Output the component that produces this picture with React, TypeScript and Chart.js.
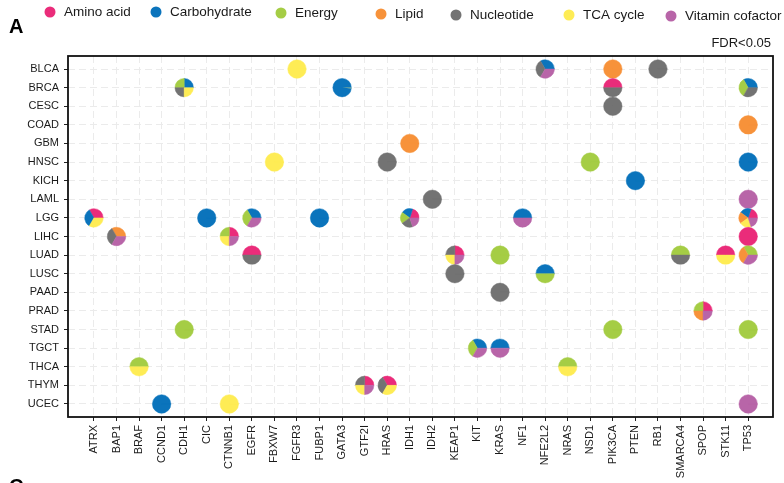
import React, { useEffect, useRef } from 'react';
import { Chart, registerables } from 'chart.js';

Chart.register(...registerables);

const FONT = '"Liberation Sans", Arial, Helvetica, sans-serif';

// ---------------- data ----------------
const categories = ['Amino acid', 'Carbohydrate', 'Energy', 'Lipid', 'Nucleotide', 'TCA cycle', 'Vitamin cofactor'];

const genes = [
  'ATRX', 'BAP1', 'BRAF', 'CCND1', 'CDH1', 'CIC', 'CTNNB1', 'EGFR', 'FBXW7', 'FGFR3',
  'FUBP1', 'GATA3', 'GTF2I', 'HRAS', 'IDH1', 'IDH2', 'KEAP1', 'KIT', 'KRAS', 'NF1',
  'NFE2L2', 'NRAS', 'NSD1', 'PIK3CA', 'PTEN', 'RB1', 'SMARCA4', 'SPOP', 'STK11', 'TP53',
];

const cancers = [
  'BLCA', 'BRCA', 'CESC', 'COAD', 'GBM', 'HNSC', 'KICH', 'LAML', 'LGG', 'LIHC',
  'LUAD', 'LUSC', 'PAAD', 'PRAD', 'STAD', 'TGCT', 'THCA', 'THYM', 'UCEC',
];

// significant (FDR<0.05) cancer/gene pairs and the pathway shares of each pie
const hitCancers = [
  'BLCA', 'BLCA', 'BLCA', 'BLCA',
  'BRCA', 'BRCA', 'BRCA', 'BRCA',
  'CESC', 'COAD', 'GBM',
  'HNSC', 'HNSC', 'HNSC', 'HNSC',
  'KICH', 'LAML', 'LAML',
  'LGG', 'LGG', 'LGG', 'LGG', 'LGG', 'LGG', 'LGG',
  'LIHC', 'LIHC', 'LIHC',
  'LUAD', 'LUAD', 'LUAD', 'LUAD', 'LUAD', 'LUAD',
  'LUSC', 'LUSC', 'PAAD', 'PRAD',
  'STAD', 'STAD', 'STAD',
  'TGCT', 'TGCT', 'THCA', 'THCA', 'THYM', 'THYM',
  'UCEC', 'UCEC', 'UCEC',
];

const hitGenes = [
  'FGFR3', 'NFE2L2', 'PIK3CA', 'RB1',
  'CDH1', 'GATA3', 'PIK3CA', 'TP53',
  'PIK3CA', 'TP53', 'IDH1',
  'FBXW7', 'HRAS', 'NSD1', 'TP53',
  'PTEN', 'IDH2', 'TP53',
  'ATRX', 'CIC', 'EGFR', 'FUBP1', 'IDH1', 'NF1', 'TP53',
  'BAP1', 'CTNNB1', 'TP53',
  'EGFR', 'KEAP1', 'KRAS', 'SMARCA4', 'STK11', 'TP53',
  'KEAP1', 'NFE2L2', 'KRAS', 'SPOP',
  'CDH1', 'PIK3CA', 'TP53',
  'KIT', 'KRAS', 'BRAF', 'NRAS', 'GTF2I', 'HRAS',
  'CCND1', 'CTNNB1', 'TP53',
];

// shares per category, in the order of `categories`
const hitShares: number[][] = [
  [0, 0, 0, 0, 0, 1, 0], [0, 1, 0, 0, 1, 0, 1], [0, 0, 0, 1, 0, 0, 0], [0, 0, 0, 0, 1, 0, 0],
  [0, 1, 1, 0, 1, 1, 0], [0, 1, 0, 0, 0, 0.01, 0], [1, 0, 0, 0, 1, 0, 0], [0, 1, 1, 0, 1, 0, 0],
  [0, 0, 0, 0, 1, 0, 0], [0, 0, 0, 1, 0, 0, 0], [0, 0, 0, 1, 0, 0, 0],
  [0, 0, 0, 0, 0, 1, 0], [0, 0, 0, 0, 1, 0, 0], [0, 0, 1, 0, 0, 0, 0], [0, 1, 0, 0, 0, 0, 0],
  [0, 1, 0, 0, 0, 0, 0], [0, 0, 0, 0, 1, 0, 0], [0, 0, 0, 0, 0, 0, 1],
  [1, 1, 0, 0, 0, 1, 0], [0, 1, 0, 0, 0, 0, 0], [0, 1, 1, 0, 0, 0, 1], [0, 1, 0, 0, 0, 0, 0],
  [1, 1, 1, 0, 1, 0, 1], [0, 1, 0, 0, 0, 0, 1], [1, 1, 0, 1, 0, 1, 1],
  [0, 0, 0, 1, 1, 0, 1], [1, 0, 1, 0, 0, 1, 1], [1, 0, 0, 0, 0, 0, 0],
  [1, 0, 0, 0, 1, 0, 0], [1, 0, 0, 0, 1, 1, 1], [0, 0, 1, 0, 0, 0, 0], [0, 0, 1, 0, 1, 0, 0],
  [1, 0, 0, 0, 0, 1, 0], [0, 0, 1, 1, 0, 0, 1],
  [0, 0, 0, 0, 1, 0, 0], [0, 1, 1, 0, 0, 0, 0], [0, 0, 0, 0, 1, 0, 0], [1, 0, 1, 1, 0, 0, 1],
  [0, 0, 1, 0, 0, 0, 0], [0, 0, 1, 0, 0, 0, 0], [0, 0, 1, 0, 0, 0, 0],
  [0, 1, 1, 0, 0, 0, 1], [0, 1, 0, 0, 0, 0, 1], [0, 0, 1, 0, 0, 1, 0], [0, 0, 1, 0, 0, 1, 0],
  [1, 0, 0, 0, 1, 1, 1], [1, 0, 0, 0, 1, 1, 0],
  [0, 1, 0, 0, 0, 0, 0], [0, 0, 0, 0, 0, 1, 0], [0, 0, 0, 0, 0, 0, 1],
];

// ---------------- styles ----------------
const categoryColors = ['#EA2C7A', '#0B74BC', '#A5CD45', '#F7923A', '#737373', '#FEEC55', '#B865A8'];
const TEXT = '#1a1a1a';

const piePlugin = {
  id: 'pies',
  beforeDatasetsDraw(chart: any) {
    const { ctx, chartArea } = chart;
    ctx.save();
    ctx.strokeStyle = '#111';
    ctx.lineWidth = 1.8;
    ctx.strokeRect(chartArea.left, chartArea.top, chartArea.right - chartArea.left, chartArea.bottom - chartArea.top);
    ctx.restore();
  },
  afterDatasetsDraw(chart: any) {
    const ctx = chart.ctx;
    const xs = chart.scales.x;
    const r = 0.41 * Math.abs(xs.getPixelForValue(1) - xs.getPixelForValue(0));
    const meta = chart.getDatasetMeta(0);
    ctx.save();
    meta.data.forEach((pt: any, i: number) => {
      const shares = hitShares[i];
      const total = shares.reduce((s, v) => s + v, 0);
      let a = 0;
      shares.forEach((v, k) => {
        if (!v) return;
        const a1 = a - (v / total) * Math.PI * 2;
        ctx.beginPath();
        ctx.moveTo(pt.x, pt.y);
        ctx.arc(pt.x, pt.y, r, a, a1, true);
        ctx.closePath();
        ctx.fillStyle = categoryColors[k];
        ctx.fill();
        if (v / total > 0.05) {
          ctx.strokeStyle = categoryColors[k];
          ctx.lineWidth = 0.5;
          ctx.stroke();
        }
        a = a1;
      });
    });
    ctx.restore();
  },
  afterDraw(chart: any) {
    const ctx = chart.ctx;
    ctx.save();
    // panel letters
    ctx.fillStyle = '#000';
    ctx.font = `bold 20px ${FONT}`;
    ctx.textAlign = 'left';
    ctx.textBaseline = 'alphabetic';
    ctx.fillText('A', 9, 33);
    ctx.fillText('C', 9, 493);
    // legend
    const lx = [50, 156, 281, 381, 456, 569, 671];
    const ly = [12, 12, 13, 14, 15, 15, 16];
    ctx.font = `13.5px ${FONT}`;
    ctx.textBaseline = 'middle';
    categories.forEach((c, i) => {
      ctx.beginPath();
      ctx.arc(lx[i], ly[i], 5.5, 0, Math.PI * 2);
      ctx.fillStyle = categoryColors[i];
      ctx.fill();
      ctx.fillStyle = TEXT;
      ctx.fillText(c, lx[i] + 14, ly[i]);
    });
    ctx.font = `13px ${FONT}`;
    ctx.textAlign = 'right';
    ctx.fillText('FDR<0.05', 771, 43);
    ctx.restore();
  },
};

export default function App() {
  const ref = useRef<HTMLCanvasElement | null>(null);
  useEffect(() => {
    if (!ref.current) return;
    const points = hitGenes.map((g, i) => ({ x: genes.indexOf(g), y: cancers.indexOf(hitCancers[i]) }));
    const grid = {
      color: '#ebebeb',
      lineWidth: 1,
      tickColor: '#222',
      tickLength: 4,
      tickWidth: 1,
    };
    const chart = new Chart(ref.current, {
      type: 'scatter',
      data: {
        datasets: [{ data: points, pointRadius: 0, pointHoverRadius: 0, backgroundColor: 'transparent' }],
      },
      plugins: [piePlugin],
      options: {
        animation: false,
        responsive: false,
        events: [],
        layout: { padding: { top: 56, right: 11, left: 0, bottom: 0 } },
        plugins: { legend: { display: false }, tooltip: { enabled: false }, title: { display: false } },
        scales: {
          x: {
            type: 'linear',
            min: -1.15,
            max: genes.length - 1 + 1.1,
            afterBuildTicks: (s: any) => { s.ticks = genes.map((_, i) => ({ value: i })); },
            afterFit: (s: any) => { s.height = 66; },
            grid,
            border: { display: false, dash: [7, 4] },
            ticks: {
              autoSkip: false,
              maxRotation: 90,
              minRotation: 90,
              padding: 4,
              color: TEXT,
              font: { size: 11, family: FONT },
              callback: (v: any) => genes[v as number] ?? '',
            },
          },
          y: {
            type: 'linear',
            reverse: true,
            min: -0.7,
            max: cancers.length - 1 + 0.7,
            afterBuildTicks: (s: any) => { s.ticks = cancers.map((_, i) => ({ value: i })); },
            afterFit: (s: any) => { s.width = 68; },
            grid,
            border: { display: false, dash: [7, 4] },
            ticks: {
              autoSkip: false,
              padding: 5,
              color: TEXT,
              font: { size: 11, family: FONT },
              callback: (v: any) => cancers[v as number] ?? '',
            },
          },
        },
      } as any,
    });
    return () => chart.destroy();
  }, []);
  return (
    <div style={{ position: 'fixed', left: 0, top: 0, width: 784, height: 483, background: '#fff' }}>
      <canvas ref={ref} width={784} height={483} style={{ display: 'block', width: 784, height: 483 }} />
    </div>
  );
}
